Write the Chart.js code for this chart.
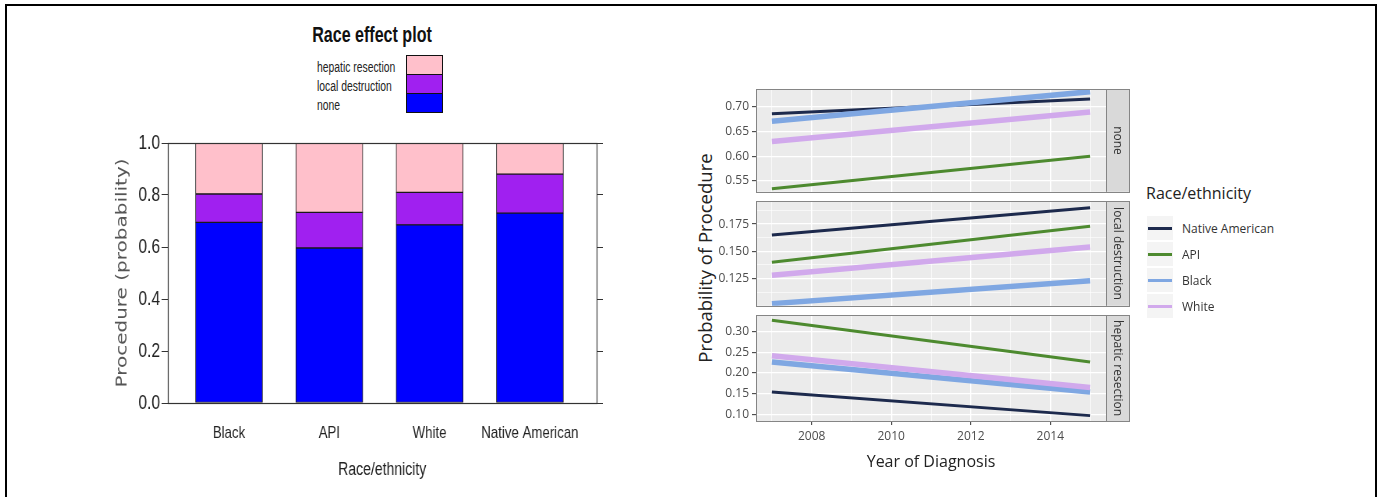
<!DOCTYPE html>
<html>
<head>
<meta charset="utf-8">
<script src="https://cdn.jsdelivr.net/npm/chart.js@4.4.1/dist/chart.umd.min.js"></script>
<style>
  body { margin: 0; width: 1377px; height: 497px; overflow: hidden; position: relative; background: #fff; font-family: 'Open Sans', sans-serif; }
  .frame { position: absolute; left: 5px; top: 4px; width: 1368px; height: 520px; border: 2px solid #000; }
  canvas { position: absolute; }
  .narrow { font-family: 'Liberation Sans', Arial, sans-serif; }
  #barTitle { position: absolute; left: 372px; top: 35px; transform: translate(-50%, -50%) scaleX(0.73); font-size: 22px; font-weight: bold; color: #111; white-space: nowrap; }
  #procLegend { position: absolute; left: 317px; top: 55px; }
  .procRow { position: absolute; left: 0; height: 19px; width: 130px; }
  .procRow span { position: absolute; left: 0; top: 50%; transform: translateY(-38%) scaleX(0.74); transform-origin: left center; font-size: 14px; color: #222; white-space: nowrap; }
  .procRow div { position: absolute; left: 89px; top: 0; width: 37px; height: 20px; box-sizing: border-box; border: 1px solid #111; }
  #yTitle2 { position: absolute; left: 704px; top: 258px; transform: translate(-50%, -50%) rotate(-90deg); font-size: 18.5px; color: #222; white-space: nowrap; }
  #raceLegend { position: absolute; left: 1146px; top: 182px; }
  #raceLegend .ttl { font-size: 16px; color: #222; white-space: nowrap; }
  .raceRow { position: absolute; left: 0; height: 26px; width: 140px; }
  .raceRow .key { position: absolute; left: 1px; top: 1px; width: 26px; height: 24px; background: #F4F4F4; }
  .raceRow .key i { position: absolute; left: 1px; right: 1px; top: 50%; height: 3px; margin-top: -1.5px; }
  .raceRow span { position: absolute; left: 36px; top: 50%; transform: translateY(-50%); font-size: 12px; color: #333; white-space: nowrap; }
</style>
</head>
<body>
<div class="frame"></div>
<div id="barTitle" class="narrow">Race effect plot</div>
<div id="procLegend" class="narrow"></div>
<!-- el lienzo se dibuja más ancho y se comprime en horizontal, como la figura original -->
<canvas id="barChart" width="667" height="367" style="left:100px;top:123px;width:520px;height:367px"></canvas>

<div id="yTitle2">Probability of Procedure</div>
<canvas id="panelNone" width="415" height="123" style="left:716px;top:79px"></canvas>
<canvas id="panelLocal" width="415" height="125" style="left:716px;top:191px"></canvas>
<canvas id="panelHep" width="415" height="171" style="left:716px;top:305px"></canvas>
<div id="raceLegend"><div class="ttl">Race/ethnicity</div></div>

<script>
// ---- left plot: stacked probabilities by race ----
const races = ['Black', 'API', 'White', 'Native American'];
const procedures = ['none', 'local destruction', 'hepatic resection'];
const noneProb = [0.695, 0.596, 0.685, 0.73];
const localProb = [0.109, 0.137, 0.125, 0.15];
const hepaticProb = [0.196, 0.267, 0.19, 0.12];
const probTicks = [0, 0.2, 0.4, 0.6, 0.8, 1];
const procColors = ['#0000FF', '#A020F0', '#FFC0CB'];

// ---- right plot: trends by year of diagnosis ----
const years = [2007, 2015];
const yearTicks = [2008, 2010, 2012, 2014];
const yearRange = [2006.6, 2015.4];
const trendRaces = ['Native American', 'API', 'Black', 'White'];
const trendColors = ['#1D2A4D', '#4D8A2F', '#7FA7E2', '#D1A9EC'];
const trendWidths = [3, 3, 5.5, 5.5];

const noneNative = [0.686, 0.716];
const noneApi = [0.534, 0.600];
const noneBlack = [0.671, 0.731];
const noneWhite = [0.630, 0.690];
const noneTicks = [0.55, 0.60, 0.65, 0.70];
const noneRange = [0.528, 0.736];

const localNative = [0.165, 0.190];
const localApi = [0.140, 0.173];
const localBlack = [0.102, 0.123];
const localWhite = [0.128, 0.154];
const localTicks = [0.125, 0.150, 0.175];
const localRange = [0.100, 0.196];

const hepNative = [0.154, 0.097];
const hepApi = [0.328, 0.227];
const hepBlack = [0.227, 0.154];
const hepWhite = [0.242, 0.165];
const hepTicks = [0.10, 0.15, 0.20, 0.25, 0.30];
const hepRange = [0.084, 0.340];

const sansFont = "'Liberation Sans', Arial, sans-serif";
Chart.defaults.font.family = "'Open Sans', sans-serif";

// caja alrededor del área del gráfico
const boxPlugin = {
	id: 'box',
	afterDraw(chart) {
		const { ctx, chartArea: a } = chart;
		ctx.save();
		ctx.strokeStyle = '#333';
		ctx.lineWidth = 1.2;
		ctx.strokeRect(Math.round(a.left) + 0.5, Math.round(a.top) + 0.5, Math.round(a.width), Math.round(a.height));
		ctx.restore();
	}
};

const barSets = [noneProb, localProb, hepaticProb].map((vals, i) => ({
	label: procedures[i],
	data: vals.map((v, j) => ({ x: j + 1, y: v })),
	backgroundColor: procColors[i],
	borderColor: '#1a1a1a',
	borderWidth: 1,
	borderSkipped: false,
	barThickness: 86
}));

new Chart(document.getElementById('barChart'), {
	type: 'bar',
	data: { datasets: barSets },
	plugins: [boxPlugin],
	options: {
		responsive: false,
		animation: false,
		devicePixelRatio: 1,
		layout: { padding: { top: 20, right: 22, bottom: 0, left: 0 } },
		plugins: { legend: { display: false }, tooltip: { enabled: false } },
		scales: {
			x: {
				type: 'linear', stacked: true, offset: false, min: 0.39, max: 4.665,
				afterBuildTicks: s => { s.ticks = races.map((r, i) => ({ value: i + 1 })); },
				afterFit: s => { s.height = 87; },
				ticks: {
					callback: v => races[Math.round(v) - 1],
					font: { family: sansFont, size: 17 }, color: '#222',
					padding: 12, maxRotation: 0, autoSkip: false
				},
				grid: { display: false, offset: false },
				border: { display: false },
				title: {
					display: true, text: 'Race/ethnicity', color: '#222',
					font: { family: sansFont, size: 18 }, padding: { bottom: 9 }
				}
			},
			y: {
				stacked: true, min: 0, max: 1,
				afterBuildTicks: s => { s.ticks = probTicks.map(v => ({ value: v })); },
				afterFit: s => { s.width = 87; },
				ticks: {
					callback: v => v.toFixed(1),
					font: { family: sansFont, size: 20 }, color: '#222', padding: 2
				},
				grid: { drawOnChartArea: false, tickLength: 8, tickColor: '#333' },
				border: { display: false },
				title: {
					display: true, text: 'Procedure (probability)', color: '#555',
					font: { family: "'DejaVu Sans', sans-serif", size: 20 }, padding: { top: 17 }
				}
			},
			y2: {
				position: 'right', min: 0, max: 1,
				afterBuildTicks: s => { s.ticks = probTicks.map(v => ({ value: v })); },
				afterFit: s => { s.width = 8; },
				ticks: { display: false },
				grid: { drawOnChartArea: false, tickLength: 8, tickColor: '#333' },
				border: { display: false }
			}
		}
	}
});

// leyenda de procedimientos (orden inverso, como el apilado)
const procLegend = document.getElementById('procLegend');
procedures.slice().reverse().forEach((name, k) => {
	const idx = procedures.length - 1 - k;
	const row = document.createElement('div');
	row.className = 'procRow';
	row.style.top = (k * 19) + 'px';
	const text = document.createElement('span');
	text.textContent = name;
	const sw = document.createElement('div');
	sw.style.backgroundColor = procColors[idx];
	row.appendChild(text);
	row.appendChild(sw);
	procLegend.appendChild(row);
});

// ---- paneles facetados ----
function gridTicks(majors, min, max) {
	const step = majors[1] - majors[0];
	const list = majors.map(v => ({ value: v, minor: false }));
	[majors[0] - step / 2].concat(majors.map(v => v + step / 2)).forEach(v => {
		if (v >= min && v <= max) list.push({ value: v, minor: true });
	});
	return list.sort((a, b) => a.value - b.value);
}

const stripPlugin = {
	id: 'strip',
	beforeDraw(chart) {
		const { ctx, chartArea: a } = chart;
		ctx.save();
		ctx.fillStyle = '#EBEBEB';
		ctx.fillRect(a.left, a.top, a.width, a.height);
		ctx.restore();
	},
	afterDraw(chart, args, opts) {
		const { ctx, chartArea: a } = chart;
		const w = 23;
		ctx.save();
		ctx.fillStyle = '#D9D9D9';
		ctx.fillRect(a.right, a.top, w, a.height);
		ctx.strokeStyle = '#858585';
		ctx.lineWidth = 1;
		ctx.strokeRect(Math.round(a.left) + 0.5, Math.round(a.top) + 0.5, Math.round(a.width) + w, Math.round(a.height));
		ctx.beginPath();
		ctx.moveTo(Math.round(a.right) + 0.5, a.top);
		ctx.lineTo(Math.round(a.right) + 0.5, a.bottom);
		ctx.stroke();
		ctx.translate(a.right + w / 2, (a.top + a.bottom) / 2);
		ctx.rotate(Math.PI / 2);
		ctx.fillStyle = '#333';
		ctx.font = "12px 'Open Sans', sans-serif";
		ctx.textAlign = 'center';
		ctx.textBaseline = 'middle';
		ctx.fillText(opts.text, 0, 0);
		ctx.restore();
	}
};

function makePanel(id, stripText, series, range, majors, decimals, isBottom) {
	const lineGrid = {
		color: '#fff',
		lineWidth: c => (c.tick && c.tick.minor ? 0.6 : 1.3),
		tickLength: 4,
		tickColor: c => (c.tick && c.tick.minor ? 'rgba(0,0,0,0)' : '#333'),
		tickWidth: 1
	};
	// la última serie se dibuja encima (como en ggplot)
	const datasets = series.map((vals, i) => ({
		label: trendRaces[i],
		data: vals.map((v, j) => ({ x: years[j], y: v })),
		borderColor: trendColors[i],
		borderWidth: trendWidths[i],
		pointRadius: 0,
		fill: false,
		order: series.length - i
	}));
	return new Chart(document.getElementById(id), {
		type: 'line',
		data: { datasets },
		plugins: [stripPlugin],
		options: {
			responsive: false,
			animation: false,
			layout: { padding: { top: 10, right: 25, bottom: isBottom ? 0 : 10, left: 0 } },
			plugins: { legend: { display: false }, tooltip: { enabled: false }, strip: { text: stripText } },
			scales: {
				x: {
					type: 'linear', min: yearRange[0], max: yearRange[1],
					afterBuildTicks: s => { s.ticks = gridTicks(yearTicks, yearRange[0], yearRange[1]); },
					afterFit: s => { s.height = isBottom ? 55 : 0; },
					ticks: {
						display: isBottom,
						callback: (v, i, t) => (t[i].minor ? '' : String(v)),
						color: '#4D4D4D', font: { size: 12 }, padding: 4,
						maxRotation: 0, autoSkip: false
					},
					grid: Object.assign({}, lineGrid, { drawTicks: isBottom }),
					border: { display: false },
					title: {
						display: isBottom, text: 'Year of Diagnosis', color: '#222',
						font: { size: 16 }, padding: { bottom: 4 }
					}
				},
				y: {
					min: range[0], max: range[1],
					afterBuildTicks: s => { s.ticks = gridTicks(majors, range[0], range[1]); },
					afterFit: s => { s.width = 40; },
					ticks: {
						callback: (v, i, t) => (t[i].minor ? '' : v.toFixed(decimals)),
						color: '#4D4D4D', font: { size: 12 }, padding: 3
					},
					grid: lineGrid,
					border: { display: false }
				}
			}
		}
	});
}

makePanel('panelNone', 'none', [noneNative, noneApi, noneBlack, noneWhite], noneRange, noneTicks, 2, false);
makePanel('panelLocal', 'local destruction', [localNative, localApi, localBlack, localWhite], localRange, localTicks, 3, false);
makePanel('panelHep', 'hepatic resection', [hepNative, hepApi, hepBlack, hepWhite], hepRange, hepTicks, 2, true);

// leyenda de raza/etnia
const raceLegend = document.getElementById('raceLegend');
trendRaces.forEach((name, i) => {
	const row = document.createElement('div');
	row.className = 'raceRow';
	row.style.top = (33 + i * 26) + 'px';
	const key = document.createElement('div');
	key.className = 'key';
	const ln = document.createElement('i');
	ln.style.backgroundColor = trendColors[i];
	key.appendChild(ln);
	const text = document.createElement('span');
	text.textContent = name;
	row.appendChild(key);
	row.appendChild(text);
	raceLegend.appendChild(row);
});
</script>
</body>
</html>
